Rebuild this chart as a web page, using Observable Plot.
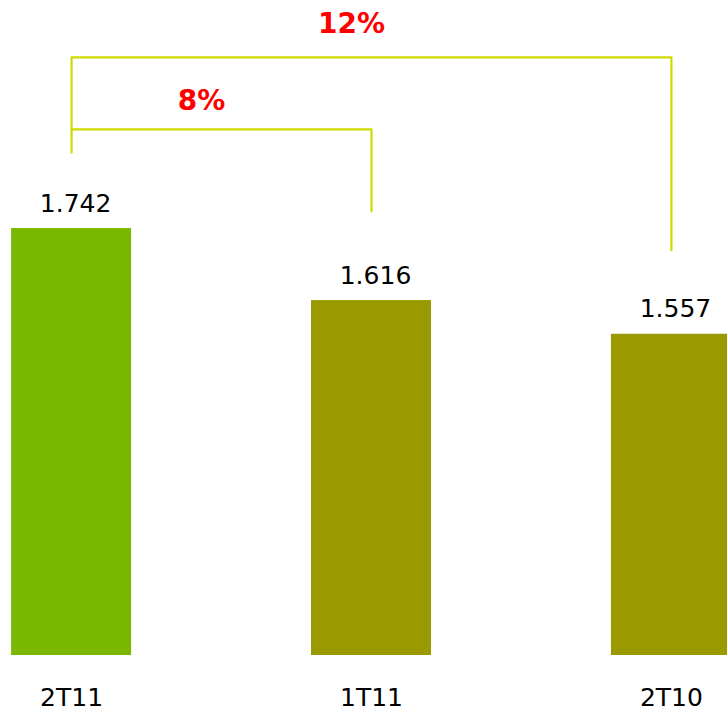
<!DOCTYPE html>
<html>
<head>
<meta charset="utf-8">
<script src="https://cdn.jsdelivr.net/npm/d3@7"></script>
<script src="https://cdn.jsdelivr.net/npm/@observablehq/plot@0.6"></script>
<style>
  html, body { margin: 0; padding: 0; background: #fff; }
  #chart svg { display: block; }
</style>
</head>
<body>
<div id="chart"></div>
<script>
// Data
const categories = ["2T11", "1T11", "2T10"];
const values = [1.742, 1.616, 1.557];
const barColors = ["#7ab800", "#9a9a00", "#9a9a00"];
const yBase = 0.995;   // value where the bars start
const yTop = 2.141;    // value at top edge
// Brackets comparing bar "from" with bar "to" (levels in data units)
const bracketFrom = [0, 0];
const bracketTo = [1, 2];
const bracketLevel = [1.9155, 2.0416];
const bracketLeftEnd = [1.875, 1.9155];
const bracketRightEnd = [1.772, 1.704];
const bracketLabelY = [1.949, 2.0836];

const bars = categories.map((c, i) => ({i, c, v: values[i], color: barColors[i]}));
const bracketPaths = [];
const bracketLabels = [];
bracketFrom.forEach((f, k) => {
  const t = bracketTo[k];
  bracketPaths.push(
    {k, x: f, y: bracketLeftEnd[k]},
    {k, x: f, y: bracketLevel[k]},
    {k, x: t, y: bracketLevel[k]},
    {k, x: t, y: bracketRightEnd[k]}
  );
  bracketLabels.push({
    x: (f + t) / 2,
    y: bracketLabelY[k],
    text: d3.format(".0%")(values[f] / values[t] - 1)
  });
});

const half = 0.2;
const chart = Plot.plot({
  width: 727,
  height: 711,
  marginTop: 0,
  marginBottom: 56,
  marginLeft: 0,
  marginRight: 0,
  style: {fontFamily: "DejaVu Sans, Verdana, sans-serif", background: "#fff"},
  x: {domain: [-0.237, 2.187], axis: null},
  y: {domain: [yBase, yTop], axis: null},
  marks: [
    Plot.rectY(bars, {
      x1: d => d.i - half, x2: d => d.i + half,
      y1: yBase, y2: "v", fill: "color"
    }),
    Plot.text(bars, {
      x: "i", y: "v", text: d => d3.format(".3f")(d.v),
      dx: 4, dy: -17, lineAnchor: "bottom",
      fontSize: 25, fill: "#000"
    }),
    Plot.text(bars, {
      x: "i", y: yBase, text: "c",
      dy: 42, fontSize: 25, fill: "#000"
    }),
    Plot.line(bracketPaths, {
      x: "x", y: "y", z: "k", stroke: "#cddc00", strokeWidth: 2.2, curve: "linear"
    }),
    Plot.text(bracketLabels, {
      x: "x", y: "y", text: "text", dx: -20, lineAnchor: "bottom",
      fontSize: 28, fontWeight: "bold", fill: "#ff0000"
    })
  ]
});
document.getElementById("chart").appendChild(chart);
</script>
</body>
</html>
